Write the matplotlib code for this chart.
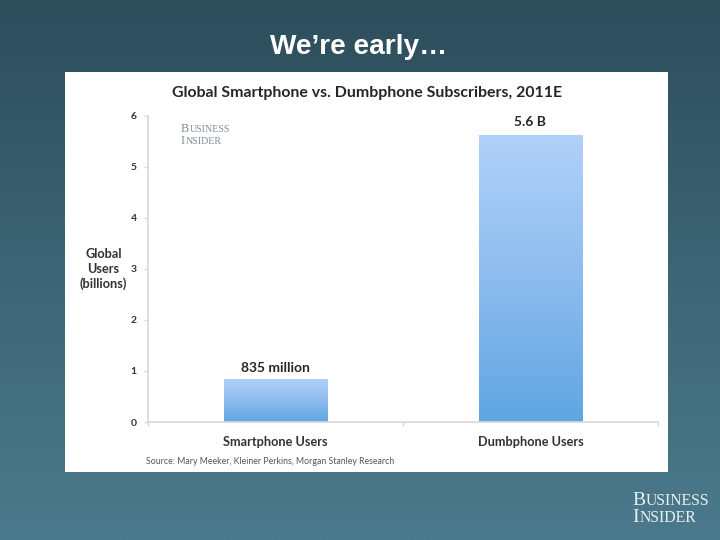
import numpy as np
import matplotlib
matplotlib.use("Agg")
import matplotlib.pyplot as plt
from matplotlib.colors import LinearSegmentedColormap
from matplotlib.patches import Rectangle

categories = ["Smartphone Users", "Dumbphone Users"]
values = [0.835, 5.6]
value_labels = ["835 million", "5.6 B"]
yticks = [0, 1, 2, 3, 4, 5, 6]

W, H = 720, 540
fig = plt.figure(figsize=(W / 100, H / 100), dpi=100)

# slide background
bg = fig.add_axes([0, 0, 1, 1], zorder=0)
bg_cmap = LinearSegmentedColormap.from_list("bg", ["#2d4d5b", "#3d6575", "#4b7a8c"])
bg.imshow(np.linspace(0, 1, 256).reshape(-1, 1), cmap=bg_cmap, aspect="auto",
          extent=[0, W, H, 0])
bg.set_xlim(0, W)
bg.set_ylim(H, 0)
bg.axis("off")
bg.add_patch(Rectangle((65, 72), 603, 399.5, facecolor="white", edgecolor="none"))

def t(x, y, s, **kw):
    kw.setdefault("ha", "center")
    kw.setdefault("va", "center")
    return bg.text(x, y, s, **kw)

t(359, 46.5, "We’re early…", family="Liberation Sans", fontweight="bold",
  fontsize=20.2, color="white")
t(367.5, 93.5, "Global Smartphone vs. Dumbphone Subscribers, 2011E", family="Lato",
  fontweight="bold", fontsize=11.4, color="#262626")
t(103.5, 269, "Global\nUsers\n(billions)", family="Lato", fontweight="bold",
  fontsize=9.2, color="#333333", linespacing=1.22)
t(270, 462, "Source: Mary Meeker, Kleiner Perkins, Morgan Stanley Research",
  family="Lato", fontsize=6.3, color="#555555")

# small-caps logos, built from a large and a small size
def logo(x, y, first1, rest1, first2, rest2, big, small, color, step):
    for yy, first, rest in ((y, first1, rest1), (y + step, first2, rest2)):
        a = t(x, yy, first, ha="left", va="baseline", family="Liberation Serif",
              fontsize=big, color=color)
        fig.canvas.draw()
        ext = a.get_window_extent()
        t(ext.x1 + 0.5, yy, rest, ha="left", va="baseline",
          family="Liberation Serif", fontsize=small, color=color)

logo(181, 132, "B", "USINESS", "I", "NSIDER", 8.8, 7.2, "#7f8f96", 11.5)
logo(632, 505, "B", "USINESS", "I", "NSIDER", 14, 11.3, "#e8f0f2", 17.5)

# chart
ax = fig.add_axes([148 / W, 1 - 422 / H, (658 - 148) / W, (422 - 115.5) / H], zorder=1)
ax.patch.set_alpha(0)
bar_cmap = LinearSegmentedColormap.from_list("bar", ["#5fa6e1", "#8dbcee", "#b0d1f8"])
bars = ax.bar(range(len(values)), values, width=0.405, color="none", edgecolor="none")
for b in bars:
    ax.imshow(np.linspace(1, 0, 128).reshape(-1, 1), cmap=bar_cmap, aspect="auto",
              extent=[b.get_x(), b.get_x() + b.get_width(), 0, b.get_height()],
              zorder=2)
label_pads = [4, 6]
for i, (v, s) in enumerate(zip(values, value_labels)):
    ax.annotate(s, (i, v), xytext=(0, label_pads[i]), textcoords="offset points", ha="center",
                va="bottom", family="Lato", fontweight="bold", fontsize=10,
                color="#262626")

ax.set_xlim(-0.5, 1.5)
ax.set_ylim(0, 6)
ax.set_yticks(yticks)
ax.set_xticks([-0.5, 0.5, 1.5])
ax.set_xticklabels([])
ax.set_xticks(range(len(categories)), categories, minor=True, family="Lato",
              fontweight="bold", fontsize=9.2, color="#333333")
ax.tick_params(axis="x", which="minor", length=0, pad=9.8)
ax.tick_params(axis="x", which="major", direction="out", length=3, color="#d8d8d8", width=1)
ax.tick_params(axis="y", direction="out", length=3, color="#d8d8d8", width=1, pad=5,
               labelsize=7.5, labelcolor="#333333")
for lab in ax.get_yticklabels():
    lab.set_family("Lato")
    lab.set_fontweight("bold")
for s in ("top", "right"):
    ax.spines[s].set_visible(False)
for s in ("left", "bottom"):
    ax.spines[s].set_color("#d8d8d8")
    ax.spines[s].set_linewidth(1.2)

fig.savefig("out.png", dpi=100)
